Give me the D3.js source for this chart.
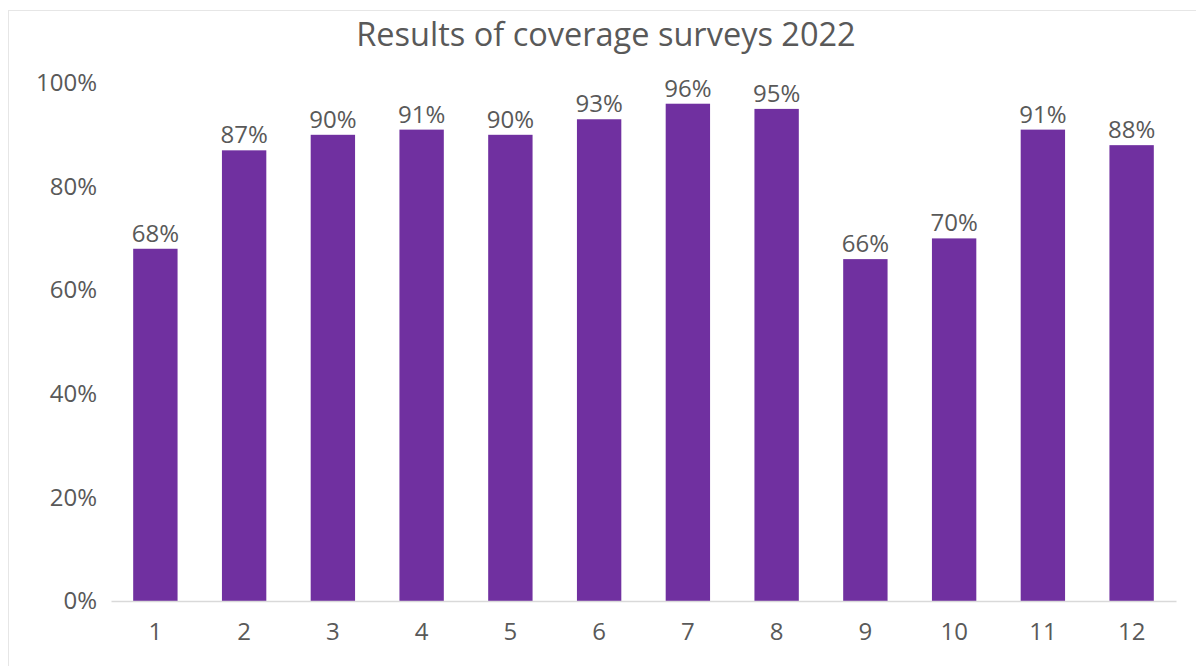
<!DOCTYPE html>
<html>
<head>
<meta charset="utf-8">
<script src="https://cdn.jsdelivr.net/npm/d3@7"></script>
<style>
  body { margin: 0; background: #fff; }
  text { font-family: "Open Sans", sans-serif; fill: #595959; }
</style>
</head>
<body>
<svg id="chart" width="1196" height="666"></svg>
<script>
// chart data
const categories = ['1', '2', '3', '4', '5', '6', '7', '8', '9', '10', '11', '12'];
const coverage = [0.68, 0.87, 0.90, 0.91, 0.90, 0.93, 0.96, 0.95, 0.66, 0.70, 0.91, 0.88];
const yTicks = [0, 0.2, 0.4, 0.6, 0.8, 1.0];
const title = 'Results of coverage surveys 2022';

const svg = d3.select('#chart');
const width = +svg.attr('width');
const height = +svg.attr('height');
const margin = { top: 83, right: 20, bottom: 65, left: 111 };

// chart area border
svg.append('rect')
  .attr('x', 8.5).attr('y', 10.5)
  .attr('width', width).attr('height', height)
  .attr('fill', 'none')
  .attr('stroke', '#e6e6e6');

const x = d3.scaleBand()
  .domain(categories)
  .range([margin.left, 1176])
  .paddingInner(0.5)
  .paddingOuter(0.25);

const y = d3.scaleLinear()
  .domain([0, 1])
  .range([601, margin.top]);

const fmt = d3.format('.0%');

// title
svg.append('text')
  .attr('x', 606).attr('y', 46)
  .attr('text-anchor', 'middle')
  .style('font-size', '32.5px')
  .text(title);

// y axis labels
const yAxis = svg.append('g')
  .attr('transform', `translate(${margin.left - 14},0)`)
  .call(d3.axisLeft(y).tickValues(yTicks).tickFormat(fmt).tickSize(0).tickPadding(0));
yAxis.select('.domain').remove();
yAxis.selectAll('text')
  .style('font-size', '24px')
  .attr('fill', null);

// bars
svg.selectAll('.bar').data(coverage)
  .join('rect')
    .attr('class', 'bar')
    .attr('x', (d, i) => x(categories[i]))
    .attr('y', d => y(d))
    .attr('width', x.bandwidth())
    .attr('height', d => y(0) - y(d))
    .attr('fill', '#7030A0');

// data labels
svg.selectAll('.label').data(coverage)
  .join('text')
    .attr('class', 'label')
    .attr('x', (d, i) => x(categories[i]) + x.bandwidth() / 2)
    .attr('y', d => y(d) - 7)
    .attr('text-anchor', 'middle')
    .style('font-size', '24px')
    .text(fmt);

// x axis
const xAxis = svg.append('g')
  .attr('transform', `translate(0,${y(0)})`)
  .call(d3.axisBottom(x).tickSize(0).tickPadding(22));
xAxis.select('.domain')
  .attr('stroke', '#d9d9d9')
  .attr('stroke-width', 1.5);
xAxis.selectAll('text')
  .style('font-size', '24px')
  .attr('fill', null);
</script>
</body>
</html>
